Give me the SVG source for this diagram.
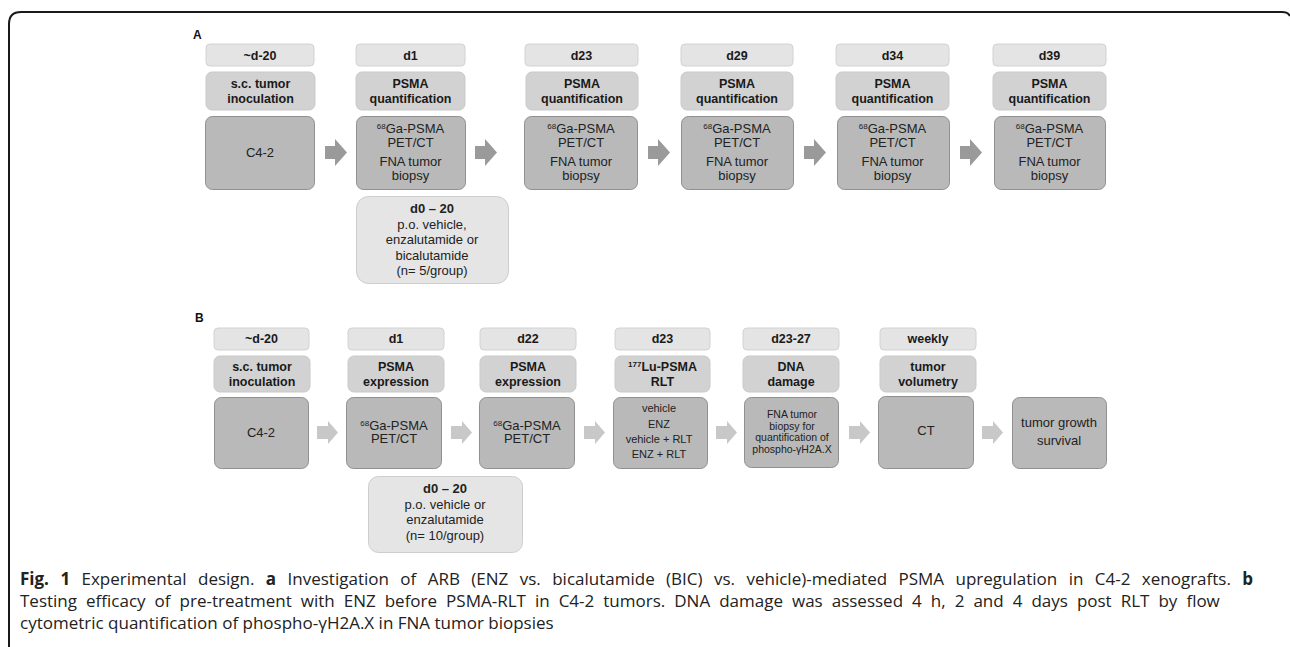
<svg xmlns="http://www.w3.org/2000/svg" width="1290" height="647" viewBox="0 0 1290 647">
<style>
text{font-family:"Liberation Sans",Arial,sans-serif;fill:#222;text-anchor:middle}
.date{fill:#e4e4e4;stroke:#d2d2d2;stroke-width:1}
.hdr{fill:#d2d2d2;stroke:#c9c9c9;stroke-width:1}
.main{fill:#b9b9b9;stroke:#909090;stroke-width:1}
.treat{fill:#e5e5e5;stroke:#cdcdcd;stroke-width:1}
.dt{font-size:12.5px;font-weight:bold;fill:#1a1a1a}
.ht{font-size:12.5px;font-weight:bold;fill:#1a1a1a}
.mt{font-size:13px}
.st{font-size:11px}
.xs{font-size:10.5px}
.sup{font-size:8px}
.arA{fill:#9a9a9a}
.arB{fill:#c8c8c8}
.lbl{font-size:12px;font-weight:bold;text-anchor:start;fill:#111}
.cap{font-family:"Open Sans","Noto Sans",sans-serif;font-size:17px;text-anchor:start;fill:#222}
</style>
<defs>
<path id="arrA" d="M0 7 H10 V0 L22 13.5 L10 27 V20 H0 Z"/>
<path id="arrB" d="M0 5 H11 V0 L21 11.5 L11 23 V18 H0 Z"/>
</defs>
<path d="M9 647 V24 Q9 12 21 12 H1282 Q1288 12 1290 16" fill="none" stroke="#1a1a1a" stroke-width="2"/>

<text class="lbl" x="193" y="39">A</text>
<text class="lbl" x="195" y="322">B</text>

<g id="connectors">
<use href="#arrA" class="arA" x="325" y="139"/>
<use href="#arrA" class="arA" x="475" y="139"/>
<use href="#arrA" class="arA" x="648" y="139"/>
<use href="#arrA" class="arA" x="804" y="139"/>
<use href="#arrA" class="arA" x="960" y="139"/>
<use href="#arrB" class="arB" x="317" y="421"/>
<use href="#arrB" class="arB" x="451" y="421"/>
<use href="#arrB" class="arB" x="584" y="421"/>
<use href="#arrB" class="arB" x="716" y="421"/>
<use href="#arrB" class="arB" x="849" y="421"/>
<use href="#arrB" class="arB" x="982" y="421"/>
</g>

<!-- Panel A -->
<g id="a1">
<rect class="date" x="206" y="44" width="108" height="22" rx="4"/>
<text class="dt" x="260" y="60">~d-20</text>
<rect class="hdr" x="206" y="72" width="109" height="38" rx="6"/>
<text class="ht" x="260.5" y="88">s.c. tumor</text>
<text class="ht" x="260.5" y="103">inoculation</text>
<rect class="main" x="205.5" y="116.5" width="109" height="73" rx="7"/>
<text class="mt" x="260" y="157">C4-2</text>
</g>
<g id="a2">
<rect class="date" x="356" y="44" width="109" height="22" rx="4"/>
<text class="dt" x="410.5" y="60">d1</text>
<rect class="hdr" x="356" y="72" width="109" height="38" rx="6"/>
<text class="ht" x="410.5" y="88">PSMA</text>
<text class="ht" x="410.5" y="103">quantification</text>
<rect class="main" x="356.5" y="116.5" width="109" height="73" rx="7"/>
<text class="mt" x="410.5" y="133"><tspan class="sup" dy="-4">68</tspan><tspan dy="4">Ga-PSMA</tspan></text>
<text class="mt" x="410.5" y="147">PET/CT</text>
<text class="mt" x="410.5" y="166">FNA tumor</text>
<text class="mt" x="410.5" y="180">biopsy</text>
</g>
<g id="a2t">
<rect class="treat" x="356.5" y="196.5" width="152" height="87" rx="12"/>
<text class="mt" x="432" y="213" font-weight="bold">d0 – 20</text>
<text class="mt" x="432" y="229">p.o. vehicle,</text>
<text class="mt" x="432" y="244">enzalutamide or</text>
<text class="mt" x="432" y="260">bicalutamide</text>
<text class="mt" x="432" y="275">(n= 5/group)</text>
</g>
<g id="a3">
<rect class="date" x="525" y="44" width="113" height="22" rx="4"/>
<text class="dt" x="581.5" y="60">d23</text>
<rect class="hdr" x="526" y="72" width="112" height="38" rx="6"/>
<text class="ht" x="582" y="88">PSMA</text>
<text class="ht" x="582" y="103">quantification</text>
<rect class="main" x="524.5" y="116.5" width="113" height="73" rx="7"/>
<text class="mt" x="581" y="133"><tspan class="sup" dy="-4">68</tspan><tspan dy="4">Ga-PSMA</tspan></text>
<text class="mt" x="581" y="147">PET/CT</text>
<text class="mt" x="581" y="166">FNA tumor</text>
<text class="mt" x="581" y="180">biopsy</text>
</g>
<g id="a4">
<rect class="date" x="681" y="44" width="112" height="22" rx="4"/>
<text class="dt" x="737" y="60">d29</text>
<rect class="hdr" x="681" y="72" width="112" height="38" rx="6"/>
<text class="ht" x="737" y="88">PSMA</text>
<text class="ht" x="737" y="103">quantification</text>
<rect class="main" x="681.5" y="116.5" width="112" height="73" rx="7"/>
<text class="mt" x="737" y="133"><tspan class="sup" dy="-4">68</tspan><tspan dy="4">Ga-PSMA</tspan></text>
<text class="mt" x="737" y="147">PET/CT</text>
<text class="mt" x="737" y="166">FNA tumor</text>
<text class="mt" x="737" y="180">biopsy</text>
</g>
<g id="a5">
<rect class="date" x="836" y="44" width="113" height="22" rx="4"/>
<text class="dt" x="892.5" y="60">d34</text>
<rect class="hdr" x="836" y="72" width="113" height="38" rx="6"/>
<text class="ht" x="892.5" y="88">PSMA</text>
<text class="ht" x="892.5" y="103">quantification</text>
<rect class="main" x="837.5" y="116.5" width="112" height="73" rx="7"/>
<text class="mt" x="892.5" y="133"><tspan class="sup" dy="-4">68</tspan><tspan dy="4">Ga-PSMA</tspan></text>
<text class="mt" x="892.5" y="147">PET/CT</text>
<text class="mt" x="892.5" y="166">FNA tumor</text>
<text class="mt" x="892.5" y="180">biopsy</text>
</g>
<g id="a6">
<rect class="date" x="993" y="44" width="113" height="22" rx="4"/>
<text class="dt" x="1049.5" y="60">d39</text>
<rect class="hdr" x="993" y="72" width="113" height="38" rx="6"/>
<text class="ht" x="1049.5" y="88">PSMA</text>
<text class="ht" x="1049.5" y="103">quantification</text>
<rect class="main" x="994.5" y="116.5" width="111" height="73" rx="7"/>
<text class="mt" x="1049.5" y="133"><tspan class="sup" dy="-4">68</tspan><tspan dy="4">Ga-PSMA</tspan></text>
<text class="mt" x="1049.5" y="147">PET/CT</text>
<text class="mt" x="1049.5" y="166">FNA tumor</text>
<text class="mt" x="1049.5" y="180">biopsy</text>
</g>

<!-- Panel B -->
<g id="b1">
<rect class="date" x="214" y="328" width="95" height="22" rx="4"/>
<text class="dt" x="261.5" y="343">~d-20</text>
<rect class="hdr" x="214" y="356" width="96" height="36" rx="6"/>
<text class="ht" x="262" y="371">s.c. tumor</text>
<text class="ht" x="262" y="386">inoculation</text>
<rect class="main" x="214.5" y="397.5" width="94" height="71" rx="7"/>
<text class="mt" x="261" y="437">C4-2</text>
</g>
<g id="b2">
<rect class="date" x="348" y="328" width="96" height="22" rx="4"/>
<text class="dt" x="396" y="343">d1</text>
<rect class="hdr" x="348" y="356" width="96" height="36" rx="6"/>
<text class="ht" x="396" y="371">PSMA</text>
<text class="ht" x="396" y="386">expression</text>
<rect class="main" x="346.5" y="397.5" width="95" height="71" rx="7"/>
<text class="mt" x="394" y="430"><tspan class="sup" dy="-4">68</tspan><tspan dy="4">Ga-PSMA</tspan></text>
<text class="mt" x="394" y="443">PET/CT</text>
</g>
<g id="b2t">
<rect class="treat" x="368.5" y="476.5" width="154" height="76" rx="10"/>
<text class="mt" x="445" y="493" font-weight="bold">d0 – 20</text>
<text class="mt" x="445" y="509">p.o. vehicle or</text>
<text class="mt" x="445" y="524">enzalutamide</text>
<text class="mt" x="445" y="540">(n= 10/group)</text>
</g>
<g id="b3">
<rect class="date" x="480" y="328" width="96" height="22" rx="4"/>
<text class="dt" x="528" y="343">d22</text>
<rect class="hdr" x="480" y="356" width="96" height="36" rx="6"/>
<text class="ht" x="528" y="371">PSMA</text>
<text class="ht" x="528" y="386">expression</text>
<rect class="main" x="479.5" y="397.5" width="95" height="71" rx="7"/>
<text class="mt" x="527" y="430"><tspan class="sup" dy="-4">68</tspan><tspan dy="4">Ga-PSMA</tspan></text>
<text class="mt" x="527" y="443">PET/CT</text>
</g>
<g id="b4">
<rect class="date" x="615" y="328" width="95" height="22" rx="4"/>
<text class="dt" x="662.5" y="343">d23</text>
<rect class="hdr" x="615" y="356" width="95" height="36" rx="6"/>
<text class="ht" x="662.5" y="371"><tspan class="sup" dy="-4">177</tspan><tspan dy="4">Lu-PSMA</tspan></text>
<text class="ht" x="662.5" y="386">RLT</text>
<rect class="main" x="613.5" y="397.5" width="94" height="71" rx="7"/>
<text class="st" x="659" y="412">vehicle</text>
<text class="st" x="659" y="428">ENZ</text>
<text class="st" x="659" y="443">vehicle + RLT</text>
<text class="st" x="659" y="458">ENZ + RLT</text>
</g>
<g id="b5">
<rect class="date" x="743" y="328" width="96" height="22" rx="4"/>
<text class="dt" x="791" y="343">d23-27</text>
<rect class="hdr" x="743" y="356" width="96" height="36" rx="6"/>
<text class="ht" x="791" y="371">DNA</text>
<text class="ht" x="791" y="386">damage</text>
<rect class="main" x="744.5" y="397.5" width="94" height="70" rx="7"/>
<text class="xs" x="792" y="418">FNA tumor</text>
<text class="xs" x="792" y="430">biopsy for</text>
<text class="xs" x="792" y="441">quantification of</text>
<text class="xs" x="792" y="453">phospho-γH2A.X</text>
</g>
<g id="b6">
<rect class="date" x="880" y="328" width="96" height="22" rx="4"/>
<text class="dt" x="928" y="343">weekly</text>
<rect class="hdr" x="880" y="356" width="96" height="36" rx="6"/>
<text class="ht" x="928" y="371">tumor</text>
<text class="ht" x="928" y="386">volumetry</text>
<rect class="main" x="878.5" y="396.5" width="95" height="72" rx="7"/>
<text class="mt" x="926" y="435">CT</text>
</g>
<g id="b7">
<rect class="main" x="1012.5" y="397.5" width="94" height="71" rx="7"/>
<text class="mt" x="1059" y="427">tumor growth</text>
<text class="mt" x="1059" y="445">survival</text>
</g>

<g id="caption">
<text class="cap" x="20" y="585" word-spacing="7"><tspan font-weight="bold">Fig. 1</tspan> Experimental design. <tspan font-weight="bold">a</tspan> Investigation of ARB (ENZ vs. bicalutamide (BIC) vs. vehicle)-mediated PSMA upregulation in C4-2 xenografts. <tspan font-weight="bold">b</tspan></text>
<text class="cap" x="20" y="607" word-spacing="4.6">Testing efficacy of pre-treatment with ENZ before PSMA-RLT in C4-2 tumors. DNA damage was assessed 4 h, 2 and 4 days post RLT by flow</text>
<text class="cap" x="20" y="629">cytometric quantification of phospho-γH2A.X in FNA tumor biopsies</text>
</g>
</svg>
